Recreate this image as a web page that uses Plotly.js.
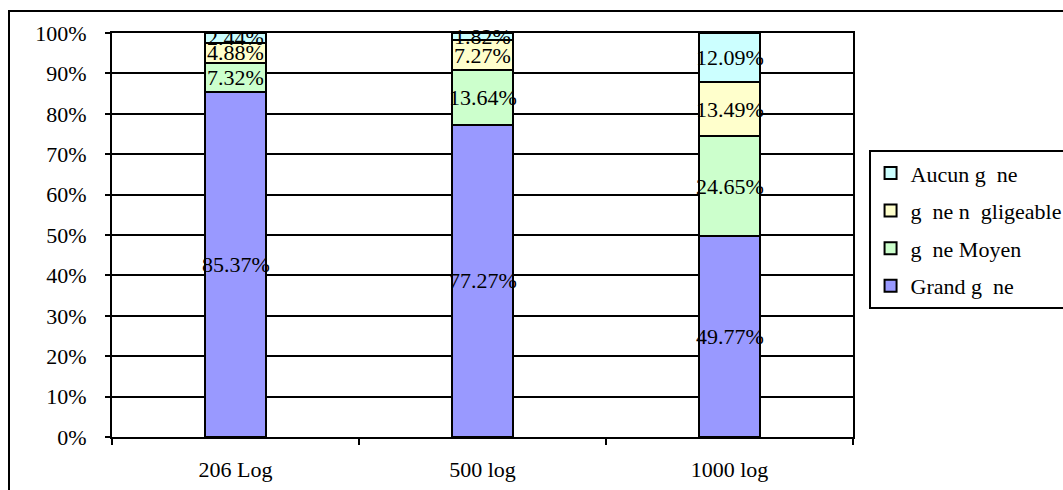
<!DOCTYPE html>
<html>
<head>
<meta charset="utf-8">
<script src="https://cdn.plot.ly/plotly-3.0.1.min.js"></script>
<style>
html,body{margin:0;padding:0;background:#fff;overflow:hidden;}
#frame{position:absolute;left:8px;top:10px;width:1100px;height:520px;border:2px solid #000;box-sizing:border-box;}
#chart{position:absolute;left:0;top:0;width:1063px;height:490px;}
</style>
</head>
<body>
<div id="frame"></div>
<div id="chart"></div>
<script>
const categories = ['206 Log', '500 log', '1000 log'];
const grandGene = [85.37, 77.27, 49.77];
const geneMoyen = [7.32, 13.64, 24.65];
const geneNegligeable = [4.88, 7.27, 13.49];
const aucunGene = [2.44, 1.82, 12.09];
const seriesNames = ['Grand g\u00a0 ne', 'g\u00a0 ne Moyen', 'g\u00a0 ne n\u00a0 gligeable', 'Aucun g\u00a0 ne'];
const seriesColors = ['#9999FF', '#CCFFCC', '#FFFFCC', '#CCFFFF'];
const yTickVals = [0, 10, 20, 30, 40, 50, 60, 70, 80, 90, 100];
const yTickText = ['0%', '10%', '20%', '30%', '40%', '50%', '60%', '70%', '80%', '90%', '100%'];

const seriesValues = [grandGene, geneMoyen, geneNegligeable, aucunGene];
const FONT = 'Liberation Serif, Times New Roman, serif';
const FS = 22;

const traces = seriesValues.map((vals, i) => ({
  type: 'bar',
  x: categories,
  y: vals,
  name: seriesNames[i],
  legendgroup: 'g' + i,
  legendrank: 10 - i,
  width: 0.25,
  marker: {color: seriesColors[i], line: {color: '#000', width: 2}},
  hoverinfo: 'none'
}));

const annotations = [];
categories.forEach((c, ci) => {
  let base = 0;
  seriesValues.forEach(vals => {
    const v = vals[ci];
    annotations.push({
      x: c, y: base + v / 2, xref: 'x', yref: 'y',
      text: v.toFixed(2) + '%', showarrow: false,
      font: {family: FONT, size: FS, color: '#000'}
    });
    base += v;
  });
});

const layout = {
  width: 1063, height: 490,
  margin: {l: 112, r: 210, t: 33, b: 53, autoexpand: false},
  paper_bgcolor: 'rgba(0,0,0,0)',
  plot_bgcolor: '#fff',
  barmode: 'stack',
  showlegend: true,
  font: {family: FONT, size: FS, color: '#000'},
  xaxis: {
    type: 'category',
    showline: true, linecolor: '#000', linewidth: 2, mirror: true,
    ticks: 'outside', tickson: 'boundaries', ticklen: 6, tickwidth: 2, tickcolor: '#000',
    ticklabelstandoff: 12,
    showgrid: false,
    tickfont: {family: FONT, size: FS, color: '#000'}
  },
  yaxis: {
    range: [0, 100],
    tickvals: yTickVals, ticktext: yTickText,
    showline: true, linecolor: '#000', linewidth: 2, mirror: true,
    ticks: 'outside', ticklen: 5, tickwidth: 2, tickcolor: '#000',
    ticklabelstandoff: 14,
    showgrid: true, gridcolor: '#000', gridwidth: 2,
    zeroline: false,
    tickfont: {family: FONT, size: FS, color: '#000'}
  },
  legend: {
    x: 1.021, y: 0.71, xanchor: 'left', yanchor: 'top',
    traceorder: 'grouped',
    tracegroupgap: 6,
    bordercolor: '#000', borderwidth: 2, bgcolor: '#fff',
    font: {family: FONT, size: FS, color: '#000'},
    itemwidth: 30
  },
  annotations: annotations
};

Plotly.newPlot('chart', traces, layout, {staticPlot: true, displayModeBar: false});
</script>
</body>
</html>
